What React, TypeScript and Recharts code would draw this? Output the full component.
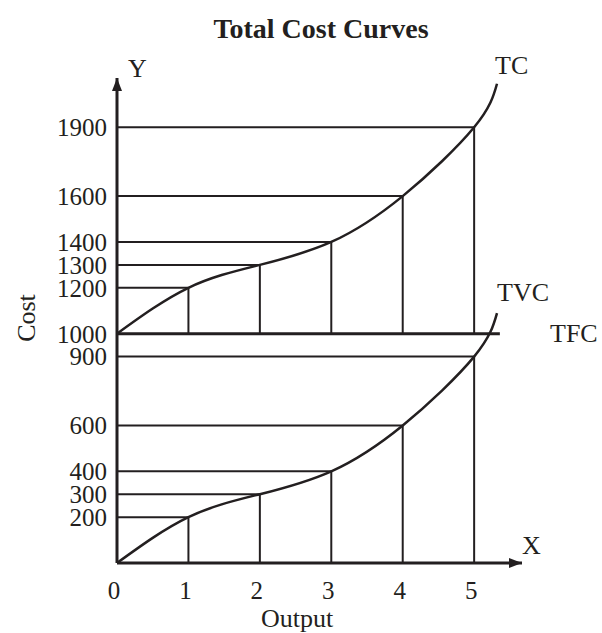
import { LineChart, Line, XAxis, YAxis, ReferenceLine, ReferenceDot } from "recharts"

const outputs = [0, 1, 2, 3, 4, 5, 5.32]
const tcValues = [1000, 1200, 1300, 1400, 1600, 1900, 2090]
const tvcValues = [0, 200, 300, 400, 600, 900, 1090]
const tfcOutputs = [0, 5.36]
const tfcValues = [1000, 1000]
const markedOutputs = [1, 2, 3, 4, 5]
const xTicks = [0, 1, 2, 3, 4, 5]
const yTicks = [200, 300, 400, 600, 900, 1000, 1200, 1300, 1400, 1600, 1900]

const X_MAX = 5.67
const Y_MAX = 2115
const ink = "#231f20"
const font = "'Liberation Serif', 'Times New Roman', serif"

const tcData = outputs.map((x, i) => ({ x, v: tcValues[i] }))
const tvcData = outputs.map((x, i) => ({ x, v: tvcValues[i] }))
const tfcData = tfcOutputs.map((x, i) => ({ x, v: tfcValues[i] }))

export default function App() {
  const tick = { fill: ink, fontSize: 25, fontFamily: font }
  return (
    <div style={{ position: "absolute", left: 0, top: 0, width: 602, height: 633, background: "#fff" }}>
      <LineChart width={602} height={633} margin={{ top: 78, right: 80, bottom: 30, left: 7 }}>
        <XAxis
          type="number"
          dataKey="x"
          domain={[0, X_MAX]}
          ticks={xTicks}
          interval={0}
          tick={{ ...tick, dx: -3 }}
          tickLine={false}
          tickMargin={12}
          height={40}
          axisLine={{ stroke: ink, strokeWidth: 3 }}
        />
        <YAxis
          type="number"
          dataKey="v"
          domain={[0, Y_MAX]}
          ticks={yTicks}
          interval={0}
          tick={tick}
          tickLine={false}
          tickMargin={4}
          width={110}
          axisLine={{ stroke: ink, strokeWidth: 3 }}
        />
        {markedOutputs.map((q) => {
          const tc = tcValues[outputs.indexOf(q)]
          const tvc = tvcValues[outputs.indexOf(q)]
          return [
            <ReferenceLine key={"tch" + q} segment={[{ x: 0, y: tc }, { x: q, y: tc }]} stroke={ink} strokeWidth={2} />,
            <ReferenceLine key={"tcv" + q} segment={[{ x: q, y: tfcValues[0] }, { x: q, y: tc }]} stroke={ink} strokeWidth={2} />,
            <ReferenceLine key={"tvh" + q} segment={[{ x: 0, y: tvc }, { x: q, y: tvc }]} stroke={ink} strokeWidth={2} />,
            <ReferenceLine key={"tvv" + q} segment={[{ x: q, y: 0 }, { x: q, y: tvc }]} stroke={ink} strokeWidth={2} />,
          ]
        })}
        <Line data={tfcData} dataKey="v" type="linear" stroke={ink} strokeWidth={3} dot={false} isAnimationActive={false} />
        <Line data={tcData} dataKey="v" type="natural" stroke={ink} strokeWidth={2.5} dot={false} isAnimationActive={false} />
        <Line data={tvcData} dataKey="v" type="natural" stroke={ink} strokeWidth={2.5} dot={false} isAnimationActive={false} />
        <ReferenceDot
          x={X_MAX}
          y={0}
          r={0}
          ifOverflow="visible"
          shape={(p: any) => <path d={`M${p.cx},${p.cy} l-13,-5 l0,10 z`} fill={ink} />}
        />
        <ReferenceDot
          x={0}
          y={Y_MAX}
          r={0}
          ifOverflow="visible"
          shape={(p: any) => <path d={`M${p.cx},${p.cy} l-5,13 l10,0 z`} fill={ink} />}
        />
      </LineChart>
      <svg
        width={602}
        height={633}
        style={{ position: "absolute", left: 0, top: 0, pointerEvents: "none" }}
        fontFamily={font}
        fill={ink}
      >
        <text x={321} y={28} fontSize={28} fontWeight="bold" textAnchor="middle" dominantBaseline="central">
          Total Cost Curves
        </text>
        <text x={128} y={68} fontSize={26} dominantBaseline="central">Y</text>
        <text x={522} y={545} fontSize={26} dominantBaseline="central">X</text>
        <text x={495} y={65} fontSize={26} dominantBaseline="central">TC</text>
        <text x={497} y={292} fontSize={26} dominantBaseline="central">TVC</text>
        <text x={550} y={333} fontSize={26} dominantBaseline="central">TFC</text>
        <text x={297} y={618} fontSize={26} textAnchor="middle" dominantBaseline="central">Output</text>
        <text
          x={26}
          y={318}
          fontSize={26}
          textAnchor="middle"
          dominantBaseline="central"
          transform="rotate(-90 26 318)"
        >
          Cost
        </text>
      </svg>
    </div>
  )
}
